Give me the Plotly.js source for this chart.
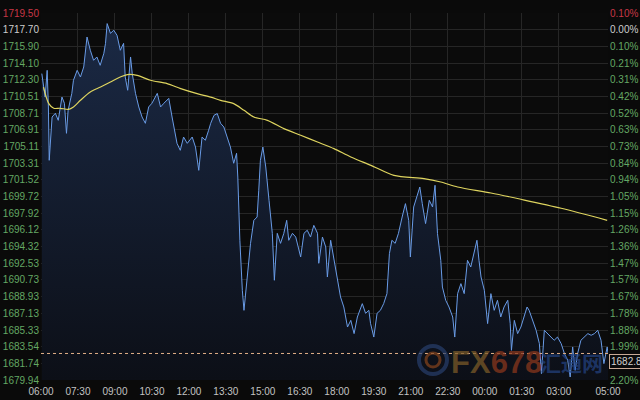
<!DOCTYPE html>
<html>
<head>
<meta charset="utf-8">
<script src="https://cdn.plot.ly/plotly-3.0.1.min.js"></script>
<style>
html,body{margin:0;padding:0;background:#0a0a0a;}
#chart{width:640px;height:400px;}
</style>
</head>
<body>
<div id="chart"></div>
<script>
// minutes since 06:00
const priceTimes = [
2,10,15,18,20,27,35,42,51,57,
62,66,75,79,88,96,104,112,120,128,
136,144,153,157,161,169,177,185,193,201,
205,211,218,222,230,238,246,254,262,270,
283,291,299,311,319,325,331,339,347,356,
368,376,384,392,400,408,413,421,429,437,
445,453,461,469,476,479,484,490,494,502,
510,518,526,530,534,540,547,555,563,568,
575,583,591,598,603,612,620,632,640,648,
656,664,673,676,685,693,697,705,713,721,
729,737,746,754,762,770,782,790,798,802,
810,818,826,834,842,848,854,862,870,879,
887,895,899,907,915,922,928,936,945,953,
959,965,973,977,985,993,1002,1007,1014,1022,
1030,1038,1046,1054,1061,1066,1071,1079,1087,1095,
1103,1111,1119,1127,1136,1142,1145,1152,1160,1168,
1176,1183,1188,1196,1205,1213,1218,1225,1233,1241,
1249,1257,1266,1274,1282,1288,1294,1300,1306,1314,
1322,1331,1339,1347,1355,1363,1370,1378,1380
];
const prices = [
1712.97,1710.44,1713.32,1709.37,1703.62,1708.29,1708.69,1707.93,1710.44,1709.77,
1706.53,1709.01,1710.84,1712.25,1713.32,1712.60,1713.68,1716.91,1715.48,1714.40,
1714.76,1713.86,1715.16,1716.23,1718.36,1717.31,1717.64,1717.10,1715.48,1716.23,
1712.60,1711.17,1714.76,1713.00,1710.84,1709.37,1708.29,1707.61,1709.37,1709.77,
1710.84,1709.37,1709.77,1710.30,1708.29,1706.86,1705.45,1704.70,1706.13,1705.45,
1706.13,1705.05,1702.54,1706.13,1705.78,1706.86,1707.61,1708.47,1708.66,1707.61,
1707.21,1706.13,1705.05,1703.30,1704.38,1701.82,1695.00,1689.61,1687.45,1691.04,
1694.67,1697.15,1697.51,1700.39,1703.62,1705.05,1702.90,1699.31,1695.75,1690.69,
1695.75,1694.67,1695.75,1697.15,1695.00,1695.75,1695.35,1693.20,1695.75,1696.08,
1695.35,1696.61,1695.75,1692.52,1695.35,1694.28,1691.04,1695.00,1692.84,1691.04,
1688.89,1687.81,1685.65,1686.37,1684.94,1686.73,1688.17,1687.13,1687.45,1686.05,
1684.57,1687.13,1687.45,1688.17,1689.25,1693.56,1695.00,1694.67,1695.75,1697.51,
1698.95,1697.15,1693.20,1698.59,1699.66,1700.74,1698.95,1696.80,1699.31,1698.59,
1700.93,1695.72,1692.84,1689.96,1688.53,1687.81,1686.73,1684.57,1689.25,1690.33,
1689.25,1692.84,1692.12,1693.56,1695.00,1692.84,1691.04,1689.61,1686.02,1689.25,
1687.45,1688.53,1686.73,1687.81,1688.53,1686.02,1683.14,1686.37,1684.94,1685.65,
1686.73,1687.81,1687.45,1686.37,1685.30,1683.86,1680.63,1685.30,1684.94,1684.57,
1684.22,1684.57,1683.86,1682.78,1682.06,1680.26,1683.50,1680.98,1682.78,1684.22,
1684.57,1684.94,1684.76,1684.94,1685.30,1684.22,1681.71,1683.50,1682.80
];
const avgTimes = [6,19,31,47,67,79,96,120,145,169,193,210,234,266,307,340,380,413,437,469,494,518,551,591,632,673,713,754,803,859,932,973,1014,1095,1168,1266,1378];
const avgPrices = [1711.52,1709.73,1709.23,1709.23,1709.12,1709.37,1710.09,1710.98,1711.52,1712.06,1712.60,1712.86,1712.78,1712.25,1711.89,1711.35,1710.81,1710.44,1710.09,1709.73,1709.01,1708.29,1707.93,1707.04,1706.32,1705.59,1704.88,1703.98,1703.08,1702.00,1701.65,1701.28,1700.74,1700.10,1699.42,1698.45,1697.15];

const currentPrice = 1682.8;
const currentLabel = "1682.8";

const xTickVals = [0,90,180,270,360,450,540,630,720,810,900,990,1080,1170,1260,1380];
const xTickText = ["06:00","07:30","09:00","10:30","12:00","13:30","15:00","16:30","18:00","19:30","21:00","22:30","00:00","01:30","03:00","05:00"];

const yTickVals = [1719.50,1717.70,1715.90,1714.10,1712.30,1710.51,1708.71,1706.91,1705.11,1703.31,1701.52,1699.72,1697.92,1696.12,1694.32,1692.53,1690.73,1688.93,1687.13,1685.33,1683.54,1681.74,1679.94];
const yTickText = ["1719.50","1717.70","1715.90","1714.10","1712.30","1710.51","1708.71","1706.91","1705.11","1703.31","1701.52","1699.72","1697.92","1696.12","1694.32","1692.53","1690.73","1688.93","1687.13","1685.33","1683.54","1681.74","1679.94"];
const pctTickText = ["0.10%","0.00%","0.10%","0.21%","0.31%","0.42%","0.52%","0.63%","0.73%","0.84%","0.94%","1.05%","1.15%","1.26%","1.36%","1.47%","1.57%","1.67%","1.78%","1.88%","1.99%","","2.20%"];

const RED = "rgb(200,55,70)", WHITE = "rgb(205,205,205)", GREEN = "rgb(100,168,100)";
function colorize(arr){
  return arr.map((t,i)=>{
    const c = i===0 ? RED : (i===1 ? WHITE : GREEN);
    return '<span style="color:'+c+'">'+t+'</span>';
  });
}
const yMin = yTickVals[yTickVals.length-1], yMax = yTickVals[0];

const traces = [
  {
    x: priceTimes, y: prices, type: 'scatter', mode: 'lines',
    line: {color: 'rgb(105,155,230)', width: 1},
    fill: 'tozeroy',
    fillgradient: {type: 'vertical', start: yMin, stop: yMax,
      colorscale: [[0,'rgb(12,15,23)'],[1,'rgb(27,42,70)']]},
    hoverinfo: 'skip', showlegend: false
  },
  {
    x: avgTimes, y: avgPrices, type: 'scatter', mode: 'lines', yaxis: 'y2',
    line: {color: 'rgb(222,212,95)', width: 1.2, shape: 'spline', smoothing: 0.8},
    hoverinfo: 'skip', showlegend: false
  }
];

const gridC = 'rgb(38,38,38)';
const layout = {
  width: 640, height: 400,
  margin: {l: 41, r: 32, t: 13, b: 20},
  paper_bgcolor: '#0a0a0a', plot_bgcolor: '#0b0b0b',
  font: {family: 'Liberation Sans, Arial, sans-serif', size: 10, color: 'rgb(200,200,200)'},
  xaxis: {
    range: [0, 1380], tickmode: 'array', tickvals: xTickVals, ticktext: xTickText,
    showgrid: true, gridcolor: gridC, gridwidth: 1, zeroline: false, showline: false,
    ticks: '', ticklen: 0, ticklabelstandoff: 4,
    tickfont: {size: 10, color: 'rgb(195,195,195)'}
  },
  yaxis: {
    range: [yMin, yMax], tickmode: 'array', tickvals: yTickVals, ticktext: colorize(yTickText),
    showgrid: true, gridcolor: gridC, zeroline: false, showline: false, ticks: '',
    ticklabelstandoff: 1, tickfont: {size: 10}
  },
  yaxis2: {
    range: [yMin, yMax], overlaying: 'y', side: 'right', tickmode: 'array',
    tickvals: yTickVals, ticktext: colorize(pctTickText),
    showgrid: false, zeroline: false, showline: false, ticks: '', ticklabelstandoff: 1,
    tickfont: {size: 10}
  },
  shapes: [
    {type: 'line', xref: 'paper', x0: 0, x1: 1, yref: 'y', y0: currentPrice, y1: currentPrice,
     line: {color: 'rgb(225,175,135)', width: 1, dash: 'dot'}},
    {type: 'circle', xref: 'paper', yref: 'paper', x0: 0.6666, x1: 0.7160, y0: 0.0165, y1: 0.0926,
     line: {color: 'rgba(40,62,108,0.7)', width: 4}, fillcolor: 'rgba(0,0,0,0)'},
    {type: 'circle', xref: 'paper', yref: 'paper', x0: 0.6790, x1: 0.7037, y0: 0.0354, y1: 0.0736,
     line: {color: 'rgba(135,68,28,0.7)', width: 3}, fillcolor: 'rgba(0,0,0,0)'}
  ],
  annotations: [
    {xref: 'paper', yref: 'paper', x: 0.804, y: 0.049, xanchor: 'center', yanchor: 'middle',
     showarrow: false,
     text: '<b><span style="color:rgba(125,92,40,0.72)">FX</span><span style="color:rgba(140,55,28,0.72)">678</span></b>',
     font: {family: 'Liberation Sans Narrow, Liberation Sans, Arial, sans-serif', size: 31}},
    {xref: 'paper', yref: 'paper', x: 0.9365, y: 0.049, xanchor: 'center', yanchor: 'middle',
     showarrow: false, text: '<b>汇通网</b>',
     font: {family: 'Noto Sans CJK SC, sans-serif', size: 21, color: 'rgba(36,68,132,0.7)'}},
    {xref: 'paper', yref: 'y', x: 1, y: currentPrice, xanchor: 'left', yanchor: 'top',
     xshift: 1, yshift: -1, showarrow: false, text: currentLabel,
     font: {size: 10, color: 'rgb(210,210,210)'}, bgcolor: '#0a0a0a',
     bordercolor: 'rgb(200,170,150)', borderwidth: 1, borderpad: 1}
  ]
};

Plotly.newPlot('chart', traces, layout, {displayModeBar: false, staticPlot: true});
</script>
</body>
</html>
